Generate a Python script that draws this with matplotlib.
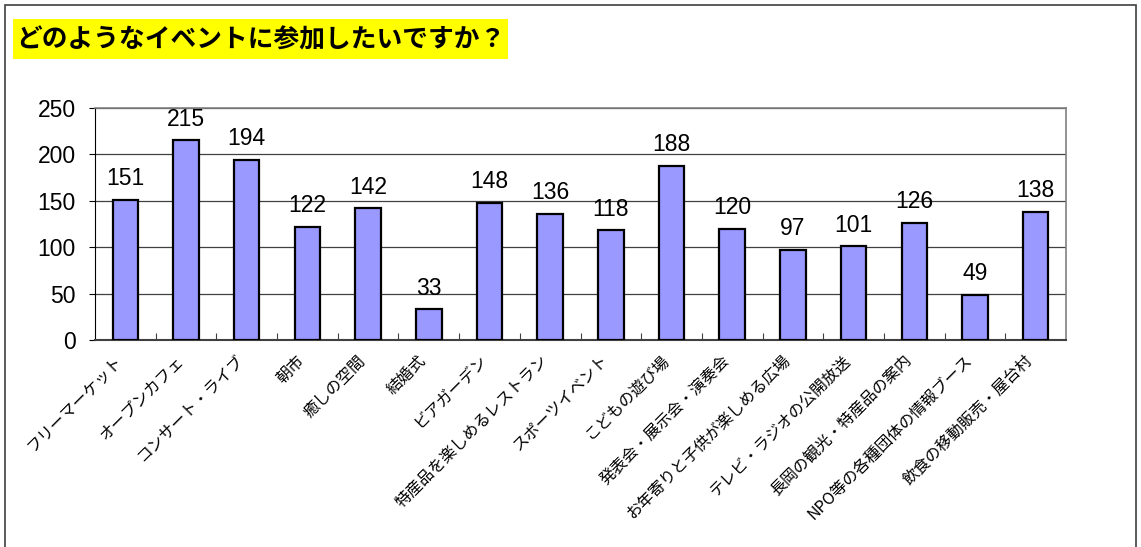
import matplotlib
matplotlib.use("Agg")
import matplotlib.pyplot as plt
import matplotlib.transforms as mtransforms
from matplotlib.patches import Rectangle
import numpy as np

plt.rcParams['font.family'] = ['Noto Sans CJK JP', 'DejaVu Sans']

title = "どのようなイベントに参加したいですか？"
categories = ["フリーマーケット", "オープンカフェ", "コンサート・ライブ", "朝市", "癒しの空間",
              "結婚式", "ビアガーデン", "特産品を楽しめるレストラン", "スポーツイベント",
              "こどもの遊び場", "発表会・展示会・演奏会", "お年寄りと子供が楽しめる広場",
              "テレビ・ラジオの公開放送", "長岡の観光・特産品の案内",
              "NPO等の各種団体の情報ブース", "飲食の移動販売・屋台村"]
counts = [151, 215, 194, 122, 142, 33, 148, 136, 118, 188, 120, 97, 101, 126, 49, 138]
yticks = [0, 50, 100, 150, 200, 250]

num_font = ['Liberation Sans', 'DejaVu Sans']

W, H = 1141, 547
fig = plt.figure(figsize=(W / 100, H / 100), dpi=100)

# outer frame
fig.add_artist(Rectangle((5 / W, -0.05), 1131 / W, 1.05 - 5 / H, transform=fig.transFigure,
                         fill=False, edgecolor='#404040', linewidth=1.2))

# title with yellow highlight
fig.add_artist(Rectangle((13 / W, 1 - 59 / H), 495 / W, 40 / H, transform=fig.transFigure,
                         facecolor='#FFFF00', edgecolor='none'))
fig.text(16 / W, 1 - 40 / H, title, fontsize=18.5, fontweight='bold', va='center', ha='left')

ax = fig.add_axes([95 / W, 1 - 340 / H, 971 / W, 232 / H])
x = np.arange(len(categories))
ax.bar(x, counts, width=0.42, color='#9999FF', edgecolor='black', linewidth=1.6, zorder=3)
for xi, v in zip(x, counts):
    ax.annotate(str(v), (xi, v), xytext=(0, 7), textcoords='offset points',
                ha='center', va='bottom', fontsize=16.5, family=num_font, zorder=4)

ax.set_xlim(-0.5, len(categories) - 0.5)
ax.set_ylim(0, 250)
ax.set_yticks(yticks)
ax.set_yticklabels([str(t) for t in yticks], fontsize=16.5, family=num_font)
ax.yaxis.grid(True, color='#404040', linewidth=0.9, zorder=0)
ax.tick_params(axis='y', length=4, width=0.8, pad=10)

ax.set_xticks(x)
ax.set_xticklabels(categories, rotation=45, ha='right', va='center',
                   rotation_mode='anchor', fontsize=11.5)
ax.tick_params(axis='x', length=0, pad=13)
shift = mtransforms.ScaledTranslation(-5 / 100, 0, fig.dpi_scale_trans)
for lbl in ax.get_xticklabels():
    lbl.set_transform(lbl.get_transform() + shift)
ax.set_xticks(np.arange(0.5, len(categories) - 0.5), minor=True)
ax.tick_params(axis='x', which='minor', direction='in', length=5, width=0.8, color='#404040')

for side in ['top', 'right']:
    ax.spines[side].set_color('#808080')
    ax.spines[side].set_linewidth(1.2)
ax.spines['left'].set_color('black')
ax.spines['bottom'].set_color('#404040')
ax.spines['bottom'].set_linewidth(1.5)

fig.savefig("out.png", dpi=100)
